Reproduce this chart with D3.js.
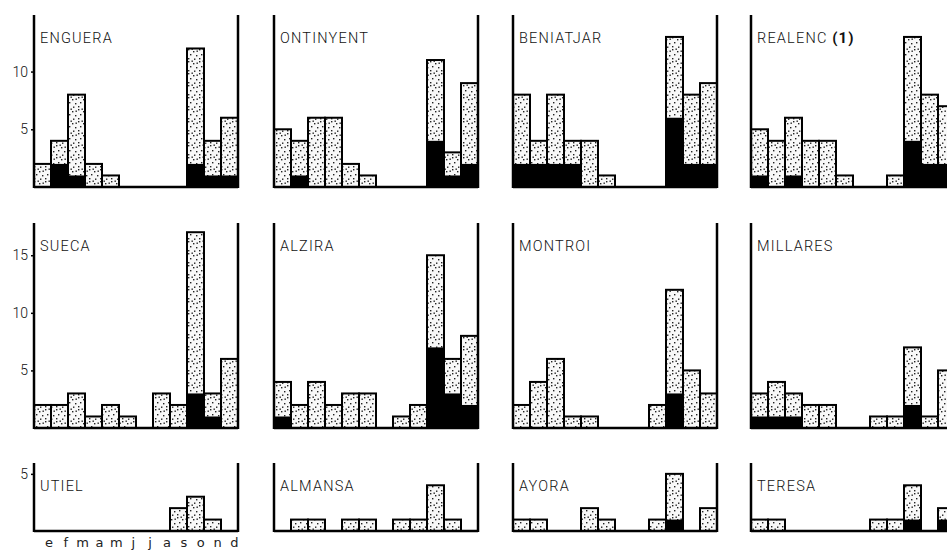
<!DOCTYPE html>
<html lang="ca">
<head>
  <meta charset="UTF-8">
  <title>Precipitacions mensuals</title>
  <style>
    body { margin: 0; background: #fff; }
    svg { display: block; }
    .titol {
      font-family: Roboto, "Liberation Sans", sans-serif;
      font-weight: 300;
      font-size: 14.5px;
      letter-spacing: 1.2px;
      fill: #111;
    }
    .titol .nota { font-weight: 700; font-size: 15px; letter-spacing: 1px; }
    .eix text {
      font-family: Roboto, "Liberation Sans", sans-serif;
      font-weight: 300;
      font-size: 14px;
      fill: #111;
    }
    .eix path { display: none; }
    .eix line { stroke: #000; stroke-width: 1.5px; }
    .mes {
      font-family: "DejaVu Sans", sans-serif;
      font-size: 13px;
      fill: #222;
      text-anchor: middle;
    }
  </style>
</head>
<body>
  <svg id="grafic"></svg>

  <script src="https://d3js.org/d3.v7.min.js"></script>
  <script>
    // mesos (etiquetes de l'eix inferior)
    const mesos = ['e', 'f', 'm', 'a', 'm', 'j', 'j', 'a', 's', 'o', 'n', 'd'];

    // estacions, per files
    const estacions = ['ENGUERA', 'ONTINYENT', 'BENIATJAR', 'REALENC',
                       'SUECA', 'ALZIRA', 'MONTROI', 'MILLARES',
                       'UTIEL', 'ALMANSA', 'AYORA', 'TERESA'];

    // total de casos per mes (barra puntejada)
    const enguera   = [2, 4, 8, 2, 1, 0, 0, 0, 0, 12, 4, 6];
    const ontinyent = [5, 4, 6, 6, 2, 1, 0, 0, 0, 11, 3, 9];
    const beniatjar = [8, 4, 8, 4, 4, 1, 0, 0, 0, 13, 8, 9];
    const realenc   = [5, 4, 6, 4, 4, 1, 0, 0, 1, 13, 8, 7];
    const sueca     = [2, 2, 3, 1, 2, 1, 0, 3, 2, 17, 3, 6];
    const alzira    = [4, 2, 4, 2, 3, 3, 0, 1, 2, 15, 6, 8];
    const montroi   = [2, 4, 6, 1, 1, 0, 0, 0, 2, 12, 5, 3];
    const millares  = [3, 4, 3, 2, 2, 0, 0, 1, 1, 7, 1, 5];
    const utiel     = [0, 0, 0, 0, 0, 0, 0, 0, 2, 3, 1, 0];
    const almansa   = [0, 1, 1, 0, 1, 1, 0, 1, 1, 4, 1, 0];
    const ayora     = [1, 1, 0, 0, 2, 1, 0, 0, 1, 5, 0, 2];
    const teresa    = [1, 1, 0, 0, 0, 0, 0, 1, 1, 4, 0, 2];

    // part en negre de cada barra
    const engueraN   = [0, 2, 1, 0, 0, 0, 0, 0, 0, 2, 1, 1];
    const ontinyentN = [0, 1, 0, 0, 0, 0, 0, 0, 0, 4, 1, 2];
    const beniatjarN = [2, 2, 2, 2, 0, 0, 0, 0, 0, 6, 2, 2];
    const realencN   = [1, 0, 1, 0, 0, 0, 0, 0, 0, 4, 2, 2];
    const suecaN     = [0, 0, 0, 0, 0, 0, 0, 0, 0, 3, 1, 0];
    const alziraN    = [1, 0, 0, 0, 0, 0, 0, 0, 0, 7, 3, 2];
    const montroiN   = [0, 0, 0, 0, 0, 0, 0, 0, 0, 3, 0, 0];
    const millaresN  = [1, 1, 1, 0, 0, 0, 0, 0, 0, 2, 0, 0];
    const utielN     = [0, 0, 0, 0, 0, 0, 0, 0, 0, 0, 0, 0];
    const almansaN   = [0, 0, 0, 0, 0, 0, 0, 0, 0, 0, 0, 0];
    const ayoraN     = [0, 0, 0, 0, 0, 0, 0, 0, 0, 1, 0, 0];
    const teresaN    = [0, 0, 0, 0, 0, 0, 0, 0, 0, 1, 0, 1];

    // marques de l'eix vertical per fila
    const marquesFila = [[5, 10], [5, 10, 15], [5]];

    const totals = [enguera, ontinyent, beniatjar, realenc, sueca, alzira,
                    montroi, millares, utiel, almansa, ayora, teresa];
    const negres = [engueraN, ontinyentN, beniatjarN, realencN, suecaN, alziraN,
                    montroiN, millaresN, utielN, almansaN, ayoraN, teresaN];

    function executa() {
      const amplada = 947;
      const altura = 550;
      const svg = d3.select('#grafic').attr('width', amplada).attr('height', altura);

      // trama puntejada
      const patro = svg.append('defs').append('pattern')
        .attr('id', 'punts')
        .attr('patternUnits', 'userSpaceOnUse')
        .attr('width', 11).attr('height', 12);
      patro.append('rect').attr('width', 11).attr('height', 12).attr('fill', '#f8f8f8');
      [[1, 1], [6, 3], [3, 6], [9, 7], [1, 10], [7, 10.5], [4.5, 0.5], [9.5, 2.5]]
        .forEach(p => patro.append('rect')
          .attr('x', p[0]).attr('y', p[1])
          .attr('width', 1.4).attr('height', 1.4)
          .attr('fill', '#222'));

      const columnes = [34, 274, 513, 751];
      const ample = 204;
      const files = [
        { dalt: 15, base: 187, max: 14.9 },
        { dalt: 223, base: 428, max: 17.8 },
        { dalt: 463, base: 531, max: 5.95 }
      ];

      estacions.forEach((nom, k) => {
        const fila = files[Math.floor(k / 4)];
        const col = k % 4;
        const x0 = columnes[col];
        const g = svg.append('g');

        const x = d3.scaleBand().domain(d3.range(12)).range([x0, x0 + ample]);
        const y = d3.scaleLinear().domain([0, fila.max]).range([fila.base, fila.dalt]);

        const dades = totals[k].map((t, i) => ({ i, t, n: negres[k][i] }))
          .filter(d => d.t > 0);

        g.selectAll('.puntejat').data(dades).enter().append('rect')
          .attr('x', d => x(d.i)).attr('width', x.bandwidth())
          .attr('y', d => y(d.t)).attr('height', d => y(0) - y(d.t))
          .attr('fill', 'url(#punts)');

        g.selectAll('.negre').data(dades.filter(d => d.n > 0)).enter().append('rect')
          .attr('x', d => x(d.i)).attr('width', x.bandwidth())
          .attr('y', d => y(d.n)).attr('height', d => y(0) - y(d.n))
          .attr('fill', '#000');

        g.selectAll('.vora').data(dades).enter().append('rect')
          .attr('x', d => x(d.i)).attr('width', x.bandwidth())
          .attr('y', d => y(d.t)).attr('height', d => y(0) - y(d.t))
          .attr('fill', 'none').attr('stroke', '#000').attr('stroke-width', 2);

        // eixos del quadre
        g.append('line')
          .attr('x1', x0).attr('x2', x0).attr('y1', fila.dalt).attr('y2', fila.base + 1)
          .attr('stroke', '#000').attr('stroke-width', 2.5);
        g.append('line')
          .attr('x1', x0 + ample).attr('x2', x0 + ample).attr('y1', fila.dalt).attr('y2', fila.base + 1)
          .attr('stroke', '#000').attr('stroke-width', 2.5);
        g.append('line')
          .attr('x1', x0).attr('x2', x0 + ample).attr('y1', fila.base).attr('y2', fila.base)
          .attr('stroke', '#000').attr('stroke-width', 2.5);

        if (col === 0) {
          g.append('g').attr('class', 'eix')
            .attr('transform', `translate(${x0},0)`)
            .call(d3.axisLeft(y).tickValues(marquesFila[Math.floor(k / 4)])
              .tickFormat(d3.format('d')).tickSize(3).tickPadding(3));
        }

        // títol
        const t = g.append('text').attr('class', 'titol')
          .attr('x', x0 + 6).attr('y', fila.dalt + 28);
        if (nom === 'REALENC') {
          t.append('tspan').text('REALENC ');
          t.append('tspan').attr('class', 'nota').text('(1)');
        } else {
          t.text(nom);
        }

        // mesos sota el primer quadre de la darrera fila
        if (k === 8) {
          g.selectAll('.mes').data(mesos).enter().append('text')
            .attr('class', 'mes')
            .attr('x', (d, i) => x(i) + x.bandwidth() / 2 + 6.5 - i * 0.15)
            .attr('y', fila.base + 16)
            .text(d => d);
        }
      });
    }

    executa();
  </script>
</body>
</html>
